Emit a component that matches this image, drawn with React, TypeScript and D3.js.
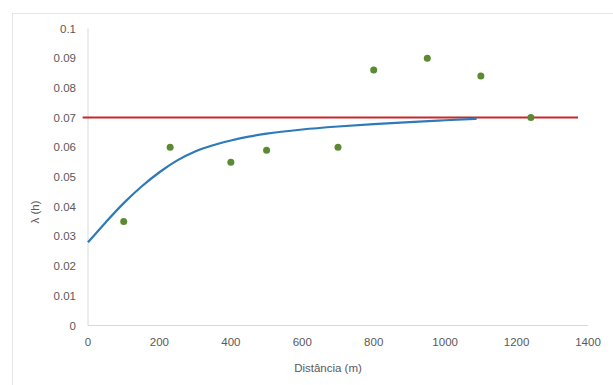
import * as d3 from 'd3'
import { useRef, useEffect } from 'react'

// observed points (distance, semivariance)
const pointX = [100, 230, 400, 500, 700, 800, 950, 1100, 1240]
const pointY = [0.035, 0.060, 0.055, 0.059, 0.060, 0.086, 0.090, 0.084, 0.070]

// fitted model curve
const modelX = [0, 50, 100, 150, 200, 250, 300, 350, 400, 450, 500, 600, 700, 800, 900, 1000, 1088]
const modelY = [0.028, 0.0348, 0.0412, 0.0468, 0.0516, 0.0556, 0.0586, 0.0607, 0.0623, 0.0636, 0.0646, 0.0660, 0.0670, 0.0678, 0.0685, 0.0691, 0.0696]

// sill line
const sillX = [-15, 1372]
const sillY = [0.07, 0.07]

const xTicks = [0, 200, 400, 600, 800, 1000, 1200, 1400]
const yTicks = [0, 0.01, 0.02, 0.03, 0.04, 0.05, 0.06, 0.07, 0.08, 0.09, 0.1]

export default function App() {
    const svgRef = useRef<SVGSVGElement>(null)
    const width = 613
    const height = 385

    useEffect(() => {
        const svg = d3.select(svgRef.current)
        svg.selectAll('*').remove()

        const font = '"Liberation Sans", Arial, sans-serif'
        const textColor = '#595959'

        // outer chart border
        svg.append('rect')
            .attr('x', 12.5).attr('y', 13.5)
            .attr('width', 640).attr('height', 400)
            .attr('fill', 'white')
            .attr('stroke', '#e6e6e6')

        const x = d3.scaleLinear().domain([0, 1400]).range([88, 588])
        const y = d3.scaleLinear().domain([0, 0.1]).range([325.5, 28.5])

        // axis lines
        svg.append('line')
            .attr('x1', x(0)).attr('x2', x(1400))
            .attr('y1', y(0)).attr('y2', y(0))
            .attr('stroke', '#d9d9d9')
        svg.append('line')
            .attr('x1', x(0)).attr('x2', x(0))
            .attr('y1', y(0)).attr('y2', y(0.1))
            .attr('stroke', '#d9d9d9')

        svg.append('g')
            .selectAll('text')
            .data(yTicks)
            .enter()
            .append('text')
            .attr('x', 76)
            .attr('y', d => y(d))
            .attr('dy', '0.35em')
            .attr('text-anchor', 'end')
            .attr('font-family', font)
            .attr('font-size', 11.5)
            .attr('fill', textColor)
            .text(d => d3.format('~g')(d))

        svg.append('g')
            .selectAll('text')
            .data(xTicks)
            .enter()
            .append('text')
            .attr('x', d => x(d))
            .attr('y', 342)
            .attr('dy', '0.35em')
            .attr('text-anchor', 'middle')
            .attr('font-family', font)
            .attr('font-size', 11.5)
            .attr('fill', textColor)
            .text(d => d)

        svg.append('text')
            .attr('x', 328).attr('y', 368)
            .attr('dy', '0.35em')
            .attr('text-anchor', 'middle')
            .attr('font-family', font)
            .attr('font-size', 11.5)
            .attr('fill', textColor)
            .text('Distância (m)')

        svg.append('text')
            .attr('transform', 'translate(35,212) rotate(-90)')
            .attr('dy', '0.35em')
            .attr('text-anchor', 'middle')
            .attr('font-family', font)
            .attr('font-size', 11.5)
            .attr('fill', textColor)
            .text('λ (h)')

        const line = d3.line<[number, number]>()
            .x(d => x(d[0]))
            .y(d => y(d[1]))

        svg.append('path')
            .datum(sillX.map((v, i) => [v, sillY[i]] as [number, number]))
            .attr('d', line)
            .attr('fill', 'none')
            .attr('stroke', '#c8282b')
            .attr('stroke-width', 2)

        svg.append('path')
            .datum(modelX.map((v, i) => [v, modelY[i]] as [number, number]))
            .attr('d', line.curve(d3.curveMonotoneX))
            .attr('fill', 'none')
            .attr('stroke', '#2e7ab9')
            .attr('stroke-width', 2.2)

        svg.append('g')
            .selectAll('circle')
            .data(pointX.map((v, i) => [v, pointY[i]]))
            .enter()
            .append('circle')
            .attr('cx', d => x(d[0]))
            .attr('cy', d => y(d[1]))
            .attr('r', 3.5)
            .attr('fill', '#5b8a33')
    }, [])

    return (
        <svg ref={svgRef} width={width} height={height}
            style={{ position: 'absolute', left: 0, top: 0, background: 'white' }}></svg>
    )
}
